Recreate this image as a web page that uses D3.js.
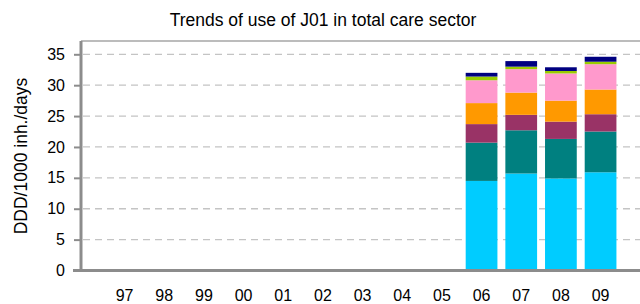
<!DOCTYPE html>
<html>
<head>
<meta charset="utf-8">
<script src="https://cdn.jsdelivr.net/npm/d3@7"></script>
<style>
  body { margin: 0; background: #fff; }
  svg { display: block; font-family: "Liberation Sans", Arial, sans-serif; }
</style>
</head>
<body>
<svg id="chart" width="640" height="304"></svg>
<script>
// years on the x axis (97..09), only 06-09 have data
const years = ["97", "98", "99", "00", "01", "02", "03", "04", "05", "06", "07", "08", "09"];
const seriesKeys = ["s1", "s2", "s3", "s4", "s5", "s6", "s7"];
const seriesColors = ["#00ccff", "#008080", "#993366", "#ff9900", "#ff99cc", "#99cc00", "#000080"];
const s1 = [0, 0, 0, 0, 0, 0, 0, 0, 0, 14.5, 15.7, 14.9, 15.9];
const s2 = [0, 0, 0, 0, 0, 0, 0, 0, 0, 6.2, 7.0, 6.4, 6.6];
const s3 = [0, 0, 0, 0, 0, 0, 0, 0, 0, 3.0, 2.5, 2.8, 2.8];
const s4 = [0, 0, 0, 0, 0, 0, 0, 0, 0, 3.4, 3.6, 3.4, 4.0];
const s5 = [0, 0, 0, 0, 0, 0, 0, 0, 0, 3.7, 3.8, 4.4, 4.1];
const s6 = [0, 0, 0, 0, 0, 0, 0, 0, 0, 0.6, 0.4, 0.4, 0.4];
const s7 = [0, 0, 0, 0, 0, 0, 0, 0, 0, 0.6, 0.9, 0.6, 0.8];
const yTicks = [0, 5, 10, 15, 20, 25, 30, 35];

const rows = years.map((yr, i) => ({
  year: yr, s1: s1[i], s2: s2[i], s3: s3[i], s4: s4[i], s5: s5[i], s6: s6[i], s7: s7[i]
}));

const svg = d3.select("#chart");

const plotLeft = 81, plotTop = 41, plotRight = 660, base = 270.5;

var x = d3.scaleBand()
    .domain(years)
    .range([104.7, 620.4])
    .paddingInner(0.2)
    .paddingOuter(0.1);

var y = d3.scaleLinear()
    .domain([0, 35])
    .range([base, 54.3]);

// title
svg.append("text")
    .attr("x", 323)
    .attr("y", 26)
    .attr("text-anchor", "middle")
    .attr("font-size", 17.5)
    .attr("fill", "#000")
    .text("Trends of use of J01 in total care sector");

// top frame line
svg.append("line")
    .attr("x1", plotLeft).attr("x2", plotRight)
    .attr("y1", plotTop).attr("y2", plotTop)
    .attr("stroke", "#a6a6a6")
    .attr("stroke-width", 1.5);

// dashed gridlines
svg.append("g")
  .selectAll("line")
  .data(yTicks.filter(d => d > 0))
  .join("line")
    .attr("x1", plotLeft + 2).attr("x2", plotRight)
    .attr("y1", d => y(d)).attr("y2", d => y(d))
    .attr("stroke", "#c4c4c4")
    .attr("stroke-width", 1.3)
    .attr("stroke-dasharray", "7,5");

// stacked bars
const stacked = d3.stack().keys(seriesKeys)(rows);

svg.append("g")
  .selectAll("g")
  .data(stacked)
  .join("g")
    .attr("fill", (d, i) => seriesColors[i])
  .selectAll("rect")
  .data(d => d.filter(p => p[1] - p[0] > 0))
  .join("rect")
    .attr("x", d => x(d.data.year))
    .attr("width", x.bandwidth())
    .attr("y", d => y(d[1]))
    .attr("height", d => y(d[0]) - y(d[1]));

// y axis
const yAxis = svg.append("g")
    .attr("transform", `translate(${plotLeft},0)`)
    .call(d3.axisLeft(y).tickValues(yTicks).tickSize(7).tickPadding(9));
yAxis.select(".domain").remove();
yAxis.selectAll(".tick line").attr("stroke", "#8c8c8c").attr("stroke-width", 2);
yAxis.selectAll(".tick text")
    .attr("font-size", 16)
    .attr("font-family", "'Liberation Sans', Arial, sans-serif")
    .attr("fill", "#000");

svg.append("line")
    .attr("x1", plotLeft).attr("x2", plotLeft)
    .attr("y1", plotTop).attr("y2", base + 1)
    .attr("stroke", "#8c8c8c")
    .attr("stroke-width", 3);

// x axis
svg.append("line")
    .attr("x1", plotLeft - 8).attr("x2", plotRight)
    .attr("y1", base).attr("y2", base)
    .attr("stroke", "#8c8c8c")
    .attr("stroke-width", 3);

const xAxis = svg.append("g")
    .attr("transform", `translate(0,${base})`)
    .call(d3.axisBottom(x).tickSize(0).tickPadding(19));
xAxis.select(".domain").remove();
xAxis.selectAll(".tick text")
    .attr("font-size", 16)
    .attr("font-family", "'Liberation Sans', Arial, sans-serif")
    .attr("fill", "#000");

// y axis title
svg.append("text")
    .attr("transform", "translate(27,156) rotate(-90)")
    .attr("text-anchor", "middle")
    .attr("font-size", 17.5)
    .attr("fill", "#000")
    .text("DDD/1000 inh./days");
</script>
</body>
</html>
